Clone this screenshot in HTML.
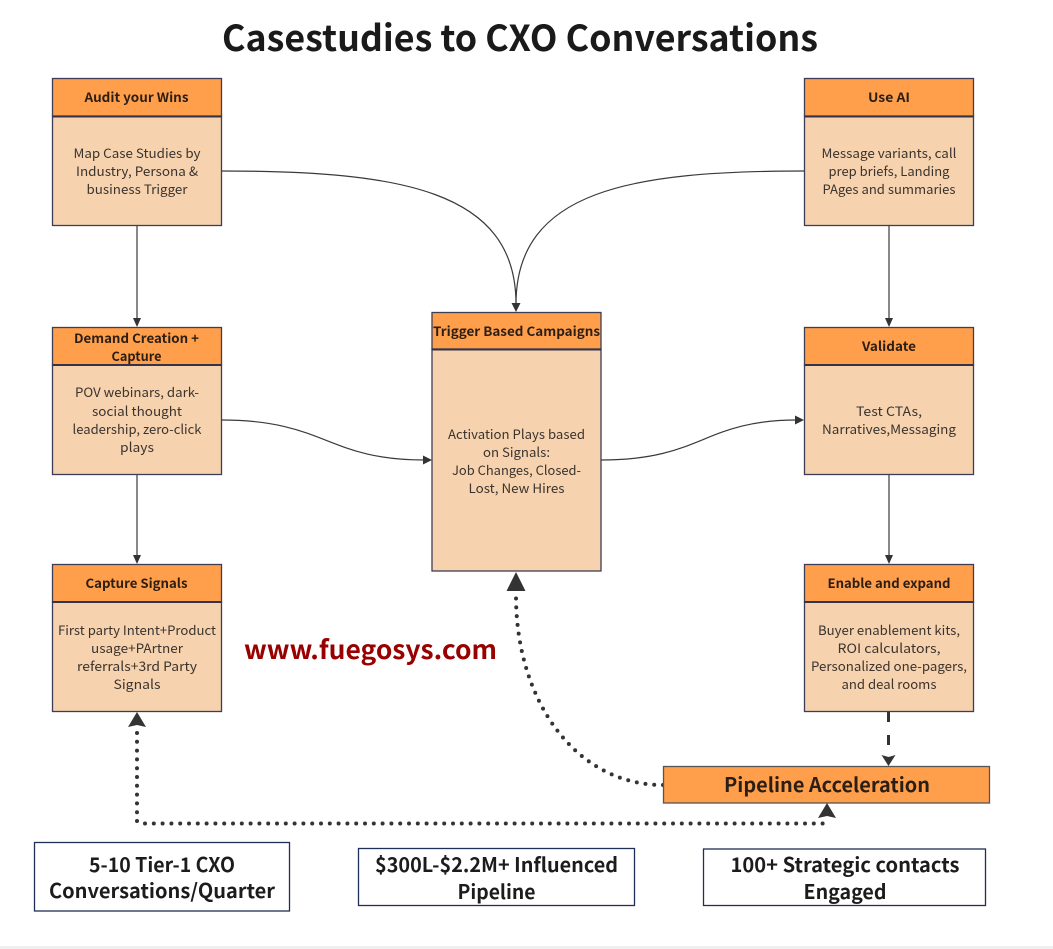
<!DOCTYPE html>
<html><head><meta charset="utf-8"><style>
html,body{margin:0;padding:0;background:#fff}
svg{display:block}
text{font-family:"Noto Sans CJK SC","Liberation Sans",sans-serif;text-anchor:middle;fill:#3a332e;font-size:13px}
.h{font-weight:700;fill:#2b1e14;font-size:13px}
.b{font-weight:700;fill:#1c1c1c;font-size:20px}
.box{stroke:#3d3d55;stroke-width:1.3}
.hd{fill:#ff9f4b}.bd{fill:#f6d3ae}
.sep{stroke:#33334a;stroke-width:2;fill:none}
.thin{fill:none;stroke:#3a3a3a;stroke-width:1.2}
.dot{fill:none;stroke:#333;stroke-width:4;stroke-linecap:round;stroke-dasharray:0 8.8}
</style></head><body>
<svg width="1053" height="949" viewBox="0 0 1053 949" xmlns="http://www.w3.org/2000/svg">
<rect x="0" y="946" width="1053" height="3" fill="#f0f0f0"/>
<text x="520" y="51" textLength="596" lengthAdjust="spacingAndGlyphs" style="font-size:36px;font-weight:700;fill:#1a1a1a">Casestudies to CXO Conversations</text>

<!-- connectors -->
<path class="thin" d="M221 171C400 171 516 190 516 304"/>
<path class="thin" d="M804 171C632 171 516 190 516 304"/>
<path d="M516 312l-4.500-9h9z" fill="#333"/>
<path class="thin" d="M137 225V319"/><path d="M137 327l-4-9h8z" fill="#333"/>
<path class="thin" d="M889 225V319"/><path d="M889 327l-4-9h8z" fill="#333"/>
<path class="thin" d="M137 474V556"/><path d="M137 564l-4-9h8z" fill="#333"/>
<path class="thin" d="M889 474V556"/><path d="M889 564l-4-9h8z" fill="#333"/>
<path class="thin" d="M221 420C326 420 326 460 425 460"/><path d="M432 460l-9-4.500v9z" fill="#333"/>
<path class="thin" d="M601 460C703 460 703 420 797 420"/><path d="M804 420l-9-4.500v9z" fill="#333"/>
<path d="M888.500 712V722M888.500 735V745" stroke="#333" stroke-width="3" fill="none"/>
<path d="M888.500 766l-7-11 7 2 7-2z" fill="#333"/>
<path class="dot" d="M663 785C575 785 516 700 516 596"/>
<path d="M516 572l-9.500 19h19z" fill="#333"/>
<path class="dot" d="M137 733V822"/>
<path class="dot" d="M145 823.500H825"/>
<path d="M137 712l-9 15 9-2 9 2z" fill="#333"/>
<path d="M827 803l-9 15 9-2 9 2z" fill="#333"/>

<!-- Audit -->
<rect class="box bd" x="52.500" y="116" width="169" height="109.500"/>
<rect class="box hd" x="52.500" y="78.500" width="169" height="37.500"/>
<path class="sep" d="M52.500 116.500H221.500"/>
<text class="h" x="136.500" y="102" textLength="104" lengthAdjust="spacingAndGlyphs">Audit your Wins</text>
<text x="137" y="158" textLength="127" lengthAdjust="spacingAndGlyphs">Map Case Studies by</text>
<text x="137" y="176" textLength="122" lengthAdjust="spacingAndGlyphs">Industry, Persona &amp;</text>
<text x="137" y="194" textLength="101" lengthAdjust="spacingAndGlyphs">business Trigger</text>

<!-- Use AI -->
<rect class="box bd" x="804.500" y="116" width="169" height="109.500"/>
<rect class="box hd" x="804.500" y="78.500" width="169" height="37.500"/>
<path class="sep" d="M804.500 116.500H973.500"/>
<text class="h" x="889" y="102" textLength="42" lengthAdjust="spacingAndGlyphs">Use AI</text>
<text x="889" y="158" textLength="135" lengthAdjust="spacingAndGlyphs">Message variants, call</text>
<text x="889" y="176" textLength="121" lengthAdjust="spacingAndGlyphs">prep briefs, Landing</text>
<text x="889" y="194" textLength="133" lengthAdjust="spacingAndGlyphs">PAges and summaries</text>

<!-- Demand -->
<rect class="box bd" x="52.500" y="365" width="169" height="109.500"/>
<rect class="box hd" x="52.500" y="327.500" width="169" height="37.500"/>
<path class="sep" d="M52.500 365H221.500"/>
<text class="h" x="136.500" y="343" textLength="125" lengthAdjust="spacingAndGlyphs">Demand Creation +</text>
<text class="h" x="136.500" y="361" textLength="50" lengthAdjust="spacingAndGlyphs">Capture</text>
<text x="137" y="397" textLength="124" lengthAdjust="spacingAndGlyphs">POV webinars, dark-</text>
<text x="137" y="416" textLength="90" lengthAdjust="spacingAndGlyphs">social thought</text>
<text x="137" y="434" textLength="129" lengthAdjust="spacingAndGlyphs">leadership, zero-click</text>
<text x="137" y="452" textLength="34" lengthAdjust="spacingAndGlyphs">plays</text>

<!-- Validate -->
<rect class="box bd" x="804.500" y="365" width="169" height="109.500"/>
<rect class="box hd" x="804.500" y="327.500" width="169" height="37.500"/>
<path class="sep" d="M804.500 365H973.500"/>
<text class="h" x="889" y="351" textLength="54" lengthAdjust="spacingAndGlyphs">Validate</text>
<text x="889" y="416" textLength="66" lengthAdjust="spacingAndGlyphs">Test CTAs,</text>
<text x="889" y="434" textLength="134" lengthAdjust="spacingAndGlyphs">Narratives,Messaging</text>

<!-- Capture Signals -->
<rect class="box bd" x="52.500" y="602" width="169" height="109.500"/>
<rect class="box hd" x="52.500" y="564.500" width="169" height="37.500"/>
<path class="sep" d="M52.500 602H221.500"/>
<text class="h" x="136.500" y="588" textLength="102" lengthAdjust="spacingAndGlyphs">Capture Signals</text>
<text x="137" y="635" textLength="158" lengthAdjust="spacingAndGlyphs">First party Intent+Product</text>
<text x="137" y="653" textLength="92" lengthAdjust="spacingAndGlyphs">usage+PArtner</text>
<text x="137" y="671" textLength="120" lengthAdjust="spacingAndGlyphs">referrals+3rd Party</text>
<text x="137" y="689" textLength="47" lengthAdjust="spacingAndGlyphs">Signals</text>

<!-- Enable -->
<rect class="box bd" x="804.500" y="602" width="169" height="109.500"/>
<rect class="box hd" x="804.500" y="564.500" width="169" height="37.500"/>
<path class="sep" d="M804.500 602H973.500"/>
<text class="h" x="889" y="588" textLength="123" lengthAdjust="spacingAndGlyphs">Enable and expand</text>
<text x="889" y="635" textLength="142" lengthAdjust="spacingAndGlyphs">Buyer enablement kits,</text>
<text x="889" y="653" textLength="103" lengthAdjust="spacingAndGlyphs">ROI calculators,</text>
<text x="889" y="671" textLength="156" lengthAdjust="spacingAndGlyphs">Personalized one-pagers,</text>
<text x="889" y="689" textLength="95" lengthAdjust="spacingAndGlyphs">and deal rooms</text>

<!-- Trigger -->
<rect class="box bd" x="432" y="349" width="169" height="222"/>
<rect class="box hd" x="432" y="312.500" width="169" height="36.500"/>
<path class="sep" d="M432 349.500H601"/>
<text class="h" x="516.500" y="336" textLength="167" lengthAdjust="spacingAndGlyphs">Trigger Based Campaigns</text>
<text x="516.500" y="439" textLength="137" lengthAdjust="spacingAndGlyphs">Activation Plays based</text>
<text x="516.500" y="457" textLength="67" lengthAdjust="spacingAndGlyphs">on Signals:</text>
<text x="516.500" y="475" textLength="129" lengthAdjust="spacingAndGlyphs">Job Changes, Closed-</text>
<text x="516.500" y="493" textLength="96" lengthAdjust="spacingAndGlyphs">Lost, New Hires</text>

<text x="370.500" y="659" textLength="253" lengthAdjust="spacingAndGlyphs" style="font-size:26px;font-weight:700;fill:#990000">www.fuegosys.com</text>

<!-- Pipeline -->
<rect class="box hd" x="663.500" y="766.500" width="326" height="36.500" style="stroke:#555"/>
<text class="b" x="827" y="792" textLength="206" lengthAdjust="spacingAndGlyphs" style="fill:#2b1e14">Pipeline Acceleration</text>

<!-- Bottom -->
<rect x="34.500" y="842.500" width="255" height="68.500" fill="#fff" stroke="#1f2f55" stroke-width="1.300"/>
<text class="b" x="162" y="872" textLength="146" lengthAdjust="spacingAndGlyphs">5-10 Tier-1 CXO</text>
<text class="b" x="162" y="898" textLength="226" lengthAdjust="spacingAndGlyphs">Conversations/Quarter</text>
<rect x="358.500" y="848.500" width="276" height="57" fill="#fff" stroke="#1f2f55" stroke-width="1.300"/>
<text class="b" x="496.500" y="872" textLength="243" lengthAdjust="spacingAndGlyphs">$300L-$2.2M+ Influenced</text>
<text class="b" x="496.500" y="899" textLength="78" lengthAdjust="spacingAndGlyphs">Pipeline</text>
<rect x="703.500" y="849" width="282" height="56.500" fill="#fff" stroke="#1f2f55" stroke-width="1.300"/>
<text class="b" x="845" y="872" textLength="229" lengthAdjust="spacingAndGlyphs">100+ Strategic contacts</text>
<text class="b" x="845" y="899" textLength="83" lengthAdjust="spacingAndGlyphs">Engaged</text>
</svg>
</body></html>
